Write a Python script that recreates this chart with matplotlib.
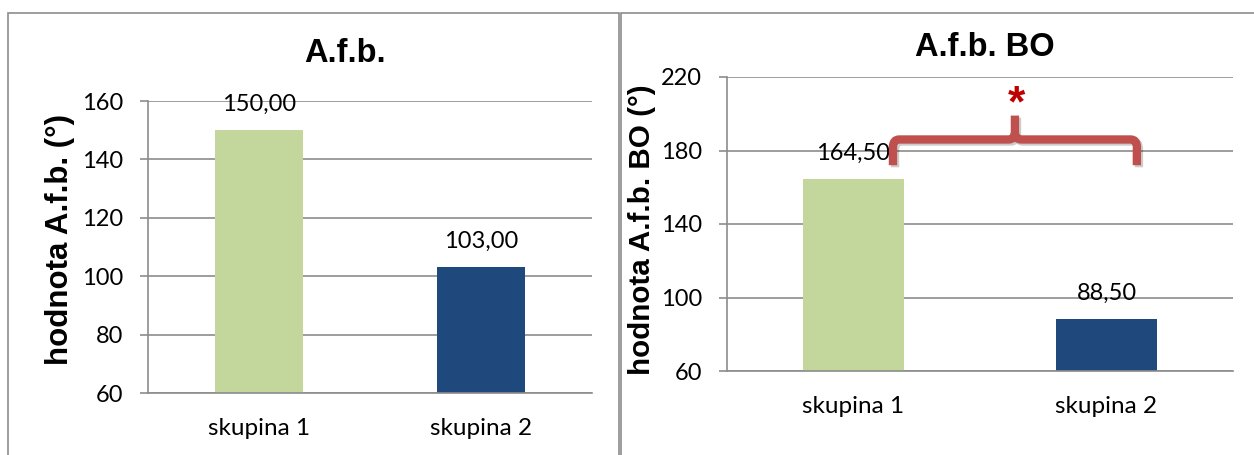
import matplotlib.pyplot as plt
from matplotlib.patches import Rectangle, PathPatch
from matplotlib.path import Path
import matplotlib.patheffects as pe

# data
categories = ['skupina 1', 'skupina 2']
afb = [150.00, 103.00]
afb_bo = [164.50, 88.50]
bar_colors = ['#c3d69b', '#1f497d']

def fmt(v):
    return f'{v:.2f}'.replace('.', ',')

fig = plt.figure(figsize=(12.54, 4.55), dpi=100)

# panel frames
fig.add_artist(Rectangle((8 / 1254, -0.1), 611 / 1254, 1.1 - 13 / 455,
                         transform=fig.transFigure, fill=False,
                         edgecolor='#8c8c8c', linewidth=1.2))
fig.add_artist(Rectangle((621 / 1254, -0.1), 640 / 1254, 1.1 - 13 / 455,
                         transform=fig.transFigure, fill=False,
                         edgecolor='#8c8c8c', linewidth=1.2))

tick_font = 'Lato'
bold_font = 'Liberation Sans'


def draw_panel(rect, values, ylim, step, title, ylabel, title_xy, label_xy, label_size):
    ax = fig.add_axes(rect)
    x = range(len(categories))
    ax.bar(x, values, width=0.4, color=bar_colors, zorder=2)
    ax.set_xlim(-0.5, 1.5)
    ax.set_ylim(*ylim)
    ax.set_yticks(range(ylim[0], ylim[1] + 1, step))
    ax.set_xticks(list(x))
    ax.set_xticklabels(categories, fontsize=17.5, fontfamily=tick_font)
    for lab in ax.get_yticklabels():
        lab.set_fontsize(17)
        lab.set_fontfamily(tick_font)
    ax.tick_params(axis='x', length=0, pad=18)
    ax.tick_params(axis='y', length=6, width=1.2, color='#8c8c8c', pad=12)
    ax.grid(axis='y', color='#8c8c8c', linewidth=1.2, zorder=0)
    ax.set_axisbelow(True)
    for s in ['top', 'right']:
        ax.spines[s].set_visible(False)
    for s in ['left', 'bottom']:
        ax.spines[s].set_color('#8c8c8c')
        ax.spines[s].set_linewidth(1.2)
    for xi, v in zip(x, values):
        ax.annotate(fmt(v), (xi, v), xytext=(0, 11), textcoords='offset points',
                    ha='center', va='bottom', fontsize=17, fontfamily=tick_font)
    ax.set_ylabel(ylabel, fontsize=label_size, fontweight='bold', fontfamily=bold_font)
    ax.yaxis.set_label_coords(*label_xy)
    fig.text(title_xy[0], title_xy[1], title, ha='center', va='center',
             fontsize=23.5, fontweight='bold', fontfamily=bold_font)
    return ax


draw_panel([148 / 1254, 62 / 455, 444 / 1254, 292 / 455], afb, (60, 160), 20,
           'A.f.b.', 'hodnota A.f.b. (°)', (345 / 1254, 1 - 53 / 455),
           (-0.165, 0.525), 22.5)
ax2 = draw_panel([727 / 1254, 84 / 455, 506 / 1254, 294 / 455], afb_bo, (60, 220), 40,
                 'A.f.b. BO', 'hodnota A.f.b. BO (°)', (985 / 1254, 1 - 47 / 455),
                 (-0.14, 0.48), 21.3)

# significance brace between the two groups
x0, x1, xc = 0.156, 1.12, 0.638
y_low, y_mid, y_top = 172, 186, 199
rx, ry = 0.025, 4
verts = [(x0, y_low), (x0, y_mid - ry), (x0, y_mid), (x0 + rx, y_mid),
         (xc - rx, y_mid), (xc, y_mid), (xc, y_mid + ry), (xc, y_top),
         (xc, y_mid + ry), (xc, y_mid), (xc + rx, y_mid),
         (x1 - rx, y_mid), (x1, y_mid), (x1, y_mid - ry), (x1, y_low)]
codes = [Path.MOVETO, Path.LINETO, Path.CURVE3, Path.CURVE3,
         Path.LINETO, Path.CURVE3, Path.CURVE3, Path.LINETO,
         Path.MOVETO, Path.CURVE3, Path.CURVE3,
         Path.LINETO, Path.CURVE3, Path.CURVE3, Path.LINETO]
brace = PathPatch(Path(verts, codes), fill=False, edgecolor='#c0504d',
                  linewidth=6, capstyle='butt', joinstyle='round', zorder=4,
                  clip_on=False,
                  path_effects=[pe.Stroke(offset=(1.5, -1.5), foreground='#000000',
                                          alpha=0.2, linewidth=6),
                                pe.Normal()])
ax2.add_patch(brace)
ax2.text(0.646, 205, '*', ha='center', va='center', fontsize=32, fontweight='bold',
         color='#c00000', fontfamily=bold_font)

fig.savefig('out.png', dpi=100)
